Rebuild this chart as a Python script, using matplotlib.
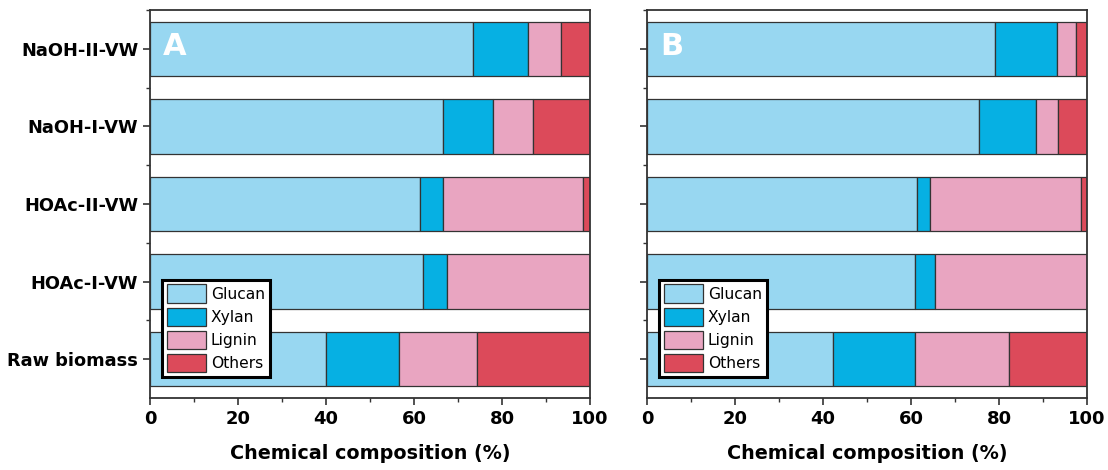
import numpy as np
import matplotlib
matplotlib.use("Agg")
import matplotlib.pyplot as plt
from matplotlib.ticker import MultipleLocator

samples = ["Raw biomass", "HOAc-I-VW", "HOAc-II-VW", "NaOH-I-VW", "NaOH-II-VW"]
components = ["Glucan", "Xylan", "Lignin", "Others"]
colors = ["#98D7F1", "#06B0E3", "#E9A5C1", "#DC4A5A"]

# panel A (bottom to top: Raw, HOAc-I, HOAc-II, NaOH-I, NaOH-II)
glucan_a = [40.0, 62.0, 61.4, 66.7, 73.5]
xylan_a = [16.6, 5.6, 5.3, 11.3, 12.3]
lignin_a = [17.8, 32.4, 31.7, 9.0, 7.5]
others_a = [25.6, 0.0, 1.6, 13.0, 6.7]

# panel B
glucan_b = [42.2, 61.0, 61.4, 75.4, 79.2]
xylan_b = [18.7, 4.4, 3.0, 13.0, 13.9]
lignin_b = [21.3, 34.6, 34.3, 5.1, 4.5]
others_b = [17.8, 0.0, 1.3, 6.5, 2.4]

plt.rcParams["font.family"] = "DejaVu Sans"

fig = plt.figure(figsize=(11.08, 4.70), dpi=100)
ax_a = fig.add_axes([0.1354, 0.1532, 0.3971, 0.8255])
ax_b = fig.add_axes([0.5839, 0.1532, 0.3971, 0.8255])


def draw_panel(ax, data, letter, show_ylabels):
    y = np.arange(len(samples))
    left = np.zeros(len(samples))
    for vals, name, c in zip(data, components, colors):
        vals = np.array(vals)
        ax.barh(y, vals, left=left, height=0.7, color=c, edgecolor="#333333",
                linewidth=0.9, label=name)
        left += vals
    ax.set_xlim(0, 100)
    ax.set_ylim(-0.5, 4.5)
    ax.set_yticks(y)
    if show_ylabels:
        ax.set_yticklabels(samples, fontsize=12.8, fontweight="bold")
    else:
        ax.set_yticklabels([])
    ax.set_yticks(y + 0.5, minor=True)
    ax.xaxis.set_major_locator(MultipleLocator(20))
    ax.xaxis.set_minor_locator(MultipleLocator(10))
    ax.tick_params(axis="both", which="major", length=5, width=1.2, color="#333333")
    ax.tick_params(axis="both", which="minor", length=3, width=1.0, color="#333333")
    for lab in ax.get_xticklabels():
        lab.set_fontweight("bold")
        lab.set_fontsize(13)
    for s in ax.spines.values():
        s.set_linewidth(1.3)
        s.set_color("#333333")
    ax.set_xlabel("Chemical composition (%)", fontsize=13.8, fontweight="bold", labelpad=12)
    ax.text(0.03, 0.905, letter, transform=ax.transAxes, color="white",
            fontsize=22, fontweight="bold", va="center", ha="left")
    leg = ax.legend(loc="lower left", bbox_to_anchor=(0.027, 0.054), borderaxespad=0,
                    fontsize=11.2, handlelength=2.55, handleheight=1.45,
                    labelspacing=0.3, handletextpad=0.3, borderpad=0.3,
                    fancybox=False, framealpha=1)
    leg.get_frame().set_edgecolor("black")
    leg.get_frame().set_linewidth(2.2)


draw_panel(ax_a, [glucan_a, xylan_a, lignin_a, others_a], "A", True)
draw_panel(ax_b, [glucan_b, xylan_b, lignin_b, others_b], "B", False)

fig.savefig("out.png", dpi=100)
